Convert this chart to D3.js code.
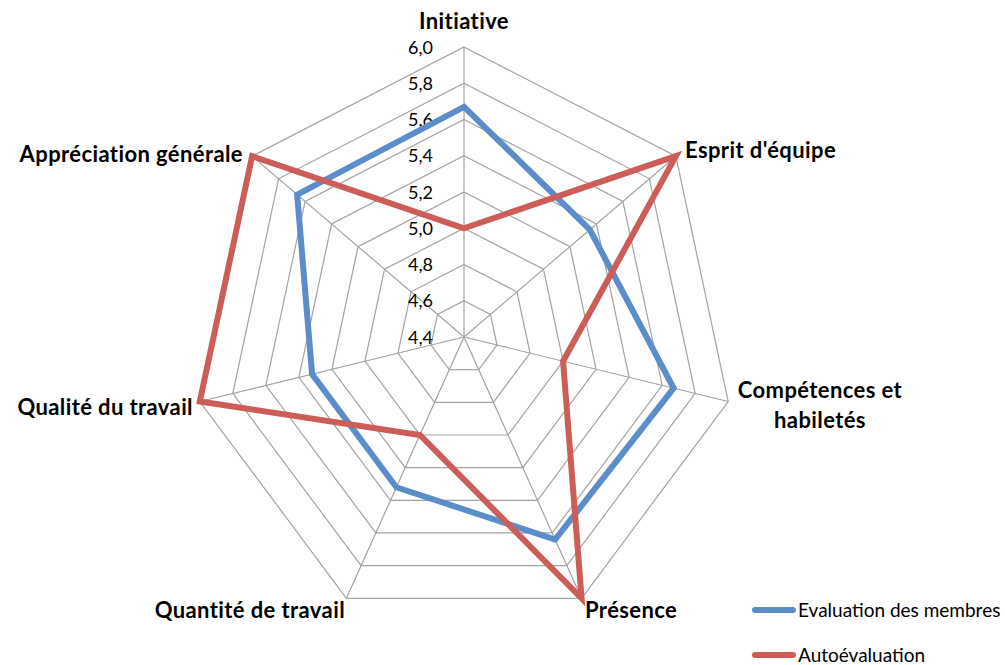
<!DOCTYPE html>
<html>
<head>
<meta charset="utf-8">
<script src="https://cdn.jsdelivr.net/npm/d3@7"></script>
<style>
  html, body { margin: 0; padding: 0; background: #fff; }
  svg { display: block; }
  text { font-family: Lato, "Open Sans", sans-serif; fill: #000; }
</style>
</head>
<body>
<svg id="chart" width="1005" height="665"></svg>
<script>
const categories = ["Initiative", "Esprit d'équipe", "Compétences et habiletés", "Présence", "Quantité de travail", "Qualité du travail", "Appréciation générale"];
const seriesNames = ["Evaluation des membres", "Autoévaluation"];
const evaluationMembres = [5.67, 5.35, 5.67, 5.64, 5.32, 5.32, 5.66];
const autoevaluation = [5.0, 6.0, 5.0, 6.0, 5.0, 6.0, 6.0];
const tickValues = [4.4, 4.6, 4.8, 5.0, 5.2, 5.4, 5.6, 5.8, 6.0];
const tickLabels = ["4,4", "4,6", "4,8", "5,0", "5,2", "5,4", "5,6", "5,8", "6,0"];
const seriesColors = ["#5a8dc9", "#cd5d58"];

const svg = d3.select("#chart");
const cx = 464, cy = 337, Rx = 271, Ry = 290;

const r = d3.scaleLinear().domain([4.4, 6.0]).range([0, 1]);
const angle = d3.scaleLinear().domain([0, categories.length]).range([0, 2 * Math.PI]);
const px = (i, v) => cx + Rx * r(v) * Math.sin(angle(i));
const py = (i, v) => cy - Ry * r(v) * Math.cos(angle(i));

const grid = svg.append("g");
// rings
tickValues.slice(1).forEach(t => {
  const pts = categories.map((c, i) => [px(i, t), py(i, t)]);
  grid.append("polygon")
    .attr("points", pts.map(p => p.join(",")).join(" "))
    .attr("fill", "none").attr("stroke", "#a3a3a3").attr("stroke-width", 1.2);
});
// spokes
categories.forEach((c, i) => {
  grid.append("line")
    .attr("x1", cx).attr("y1", cy)
    .attr("x2", px(i, 6.0)).attr("y2", py(i, 6.0))
    .attr("stroke", "#a3a3a3").attr("stroke-width", 1.2);
});

// tick labels
svg.append("g").selectAll("text").data(tickValues).join("text")
  .attr("x", 433).attr("y", d => py(0, d) + 2)
  .attr("text-anchor", "end").attr("dominant-baseline", "middle")
  .attr("font-size", 18)
  .text((d, i) => tickLabels[i]);

// series
const line = d3.line().curve(d3.curveLinearClosed);
[evaluationMembres, autoevaluation].forEach((vals, s) => {
  svg.append("path")
    .attr("d", line(vals.map((v, i) => [px(i, v), py(i, v)])))
    .attr("fill", "none").attr("stroke", seriesColors[s])
    .attr("stroke-width", 6).attr("stroke-linejoin", "miter");
});

// category labels
const labelPos = [
  { x: 464, y: 29, anchor: "middle", lines: ["Initiative"] },
  { x: 685, y: 158, anchor: "start", lines: ["Esprit d'équipe"] },
  { x: 820, y: 398, anchor: "middle", lines: ["Compétences et", "habiletés"] },
  { x: 585, y: 618, anchor: "start", lines: ["Présence"] },
  { x: 345, y: 618, anchor: "end", lines: ["Quantité de travail"] },
  { x: 193, y: 415, anchor: "end", lines: ["Qualité du travail"] },
  { x: 243, y: 162, anchor: "end", lines: ["Appréciation générale"] }
];
categories.forEach((c, i) => {
  const lp = labelPos[i];
  const t = svg.append("text")
    .attr("x", lp.x).attr("y", lp.y)
    .attr("text-anchor", lp.anchor)
    .attr("font-size", 22).attr("font-weight", "bold")
    .attr("letter-spacing", 0.4);
  lp.lines.forEach((ln, k) => {
    t.append("tspan").attr("x", lp.x).attr("dy", k === 0 ? 0 : 30).text(ln);
  });
});

// legend
const legend = svg.append("g");
seriesNames.forEach((n, s) => {
  const y = 610 + s * 45;
  legend.append("line")
    .attr("x1", 755).attr("x2", 793).attr("y1", y).attr("y2", y)
    .attr("stroke", seriesColors[s]).attr("stroke-width", 6).attr("stroke-linecap", "round");
  legend.append("text")
    .attr("x", 798).attr("y", y + 7)
    .attr("font-size", 19)
    .text(n);
});
</script>
</body>
</html>
